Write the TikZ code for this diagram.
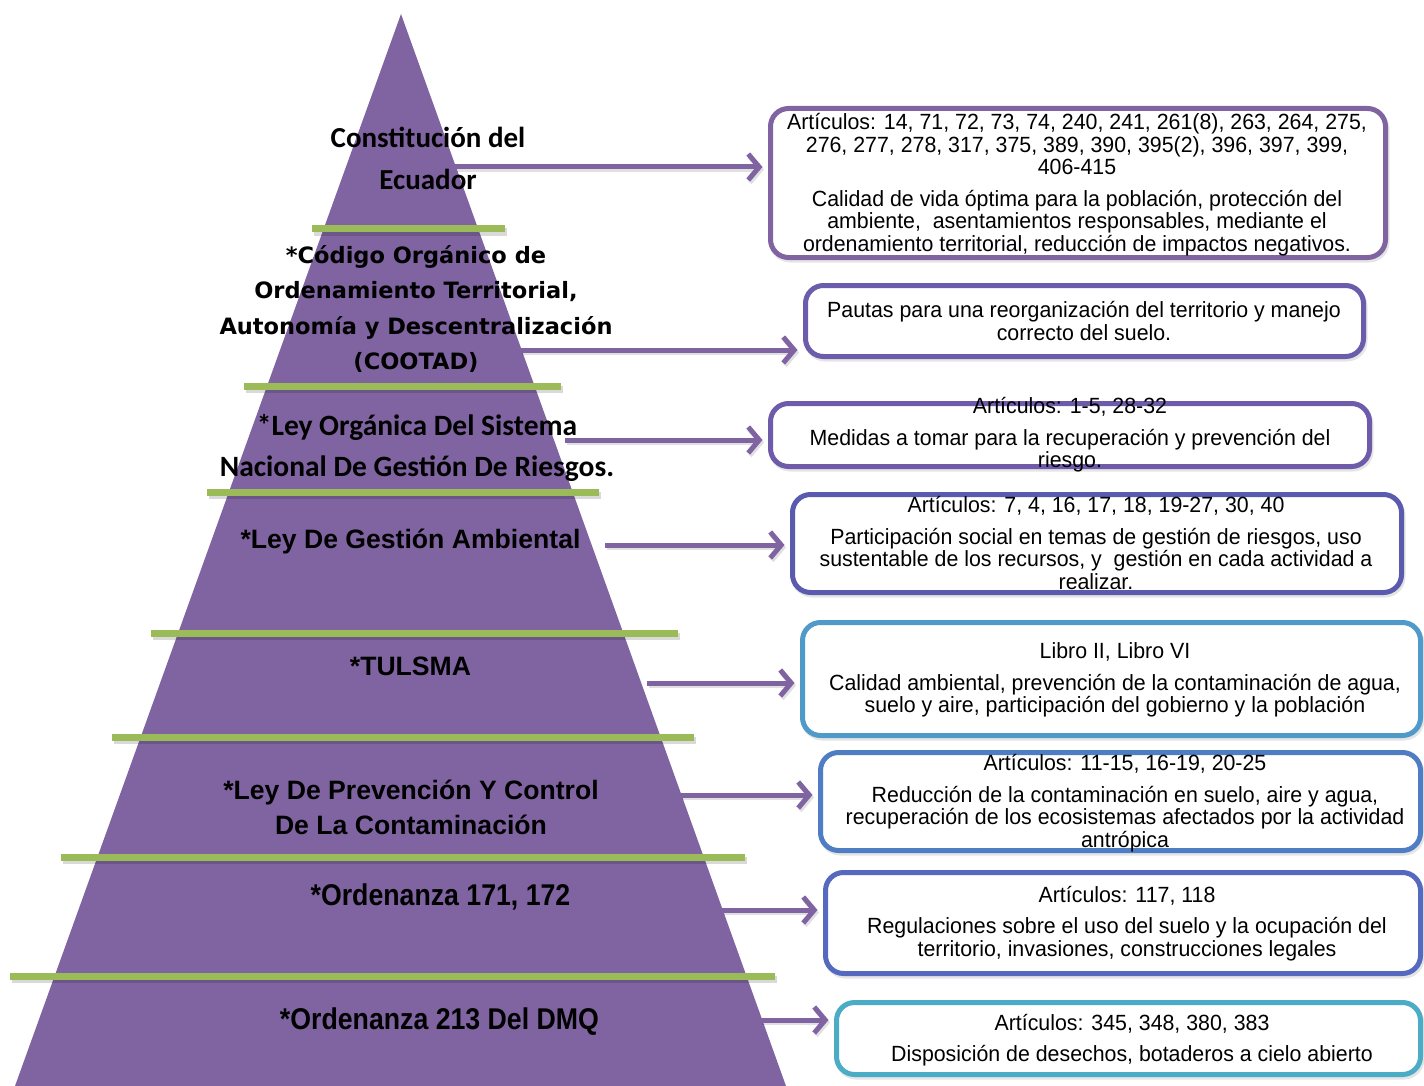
\documentclass[tikz,border=0pt]{standalone}
\usepackage{fontspec}
\setmainfont{Liberation Sans}
\newfontfamily\boxfont[FakeStretch=0.97]{Liberation Sans}
\newfontfamily\calfont{Carlito}
\newfontfamily\verfont{DejaVu Sans}
\newfontfamily\arfont{Liberation Sans}
\newfontfamily\arnarrow[FakeStretch=0.89]{Liberation Sans}
\usetikzlibrary{arrows.meta}
\definecolor{pyrPurple}{HTML}{8064A2}
\definecolor{barGreen}{HTML}{9BBB59}
\definecolor{cA}{HTML}{8064A2}
\definecolor{cB}{HTML}{6B5CAC}
\definecolor{cC}{HTML}{6E5CAA}
\definecolor{cD}{HTML}{5A5AAF}
\definecolor{cE}{HTML}{4F9AC8}
\definecolor{cF}{HTML}{4F7DC3}
\definecolor{cG}{HTML}{5569BE}
\definecolor{cH}{HTML}{4BACC6}
\tikzset{
  bar/.style={line width=7pt, draw=barGreen},
  barshadow/.style={line width=7pt, draw=black, opacity=0.15},
  arr/.style={line width=5pt, draw=pyrPurple, shorten >=8pt,
    -{Straight Barb[length=11pt,width=26pt]}},
  arrshadow/.style={line width=5pt, draw=black, opacity=0.12, shorten >=8pt,
    -{Straight Barb[length=11pt,width=26pt]}},
  box/.style={draw=#1, line width=5pt, rounded corners=18pt, fill=white,
    inner sep=0pt, outer sep=0pt},
  boxshadow/.style={draw=black, opacity=0.10, line width=5pt, rounded corners=18pt,
    inner sep=0pt, outer sep=0pt},
  btext/.style={align=center, inner sep=0pt,
    font=\boxfont\fontsize{22}{22.5}\selectfont},
  labA/.style={align=center, inner sep=0pt,
    font=\calfont\bfseries\fontsize{29}{42}\selectfont},
  labB/.style={align=center, inner sep=0pt,
    font=\verfont\bfseries\fontsize{22.5}{35.4}\selectfont},
  labC/.style={align=center, inner sep=0pt,
    font=\calfont\bfseries\fontsize{29.5}{41}\selectfont},
  labD/.style={align=center, inner sep=0pt,
    font=\arfont\bfseries\fontsize{26.6}{35}\selectfont},
  labE/.style={align=center, inner sep=0pt,
    font=\arnarrow\bfseries\fontsize{30}{35}\selectfont},
}
\begin{document}
\begin{tikzpicture}[x=1pt,y=-1pt]
\useasboundingbox (0,0) rectangle (1424,1086);
% pyramid
\fill[pyrPurple] (401,14) -- (786,1086) -- (15,1086) -- cycle;
% green bars with soft shadows
\foreach \y/\a/\b in {229/312/505, 386/244/561, 492/207/599, 633/151/678,
                      737/112/694, 857/61/745, 976/10/775} {
  \draw[barshadow] (\a+2,\y+3) -- (\b+2,\y+3);
  \draw[bar] (\a,\y) -- (\b,\y);
}
% labels
\node[labA] (l1) at (428,158) {Constitución del\\Ecuador};
\node[labB] (l2) at (416,309) {*Código Orgánico de\\Ordenamiento Territorial,\\Autonomía y Descentralización\\(COOTAD)};
\node[labC] (l3) at (417,447.5) {*Ley Orgánica Del Sistema\\Nacional De Gestión De Riesgos.};
\node[labD] (l4) at (410.5,542) {*Ley De Gestión Ambiental};
\node[labD] (l5) at (410.5,666) {*TULSMA};
\node[labD] (l6) at (411,807.5) {*Ley De Prevención Y Control\\De La Contaminación};
\node[labE] (l7) at (440.5,897) {*Ordenanza 171, 172};
\node[labE] (l8) at (439.5,1022) {*Ordenanza 213 Del DMQ};
% box shadows
\foreach \cx/\cy/\w/\h in {1078/183/615/149, 1084.5/321/558/71, 1070/435/599/63,
    1097/543.5/609/98, 1111.5/679/618/113, 1120.5/801.5/600/98,
    1123/923/595/101, 1128.5/1038.5/584/72} {
  \node[boxshadow, minimum width=\w pt, minimum height=\h pt] at (\cx+1.5,\cy+2.5) {};
}
% boxes
\node[box=cA, minimum width=615pt, minimum height=149pt] (b1) at (1078,183) {};
\node[box=cB, minimum width=558pt, minimum height=71pt] (b2) at (1084.5,321) {};
\node[box=cC, minimum width=599pt, minimum height=63pt] (b3) at (1070,435) {};
\node[box=cD, minimum width=609pt, minimum height=98pt] (b4) at (1097,543.5) {};
\node[box=cE, minimum width=618pt, minimum height=113pt] (b5) at (1111.5,679) {};
\node[box=cF, minimum width=600pt, minimum height=98pt] (b6) at (1120.5,801.5) {};
\node[box=cG, minimum width=595pt, minimum height=101pt] (b7) at (1123,923) {};
\node[box=cH, minimum width=584pt, minimum height=72pt] (b8) at (1128.5,1038.5) {};
% box texts
\node[btext] (t1) at (1077,184.5) {Artículos: 14, 71, 72, 73, 74, 240, 241, 261(8), 263, 264, 275,\\276, 277, 278, 317, 375, 389, 390, 395(2), 396, 397, 399,\\406-415\\[9pt]Calidad de vida óptima para la población, protección del\\ambiente,\ \ asentamientos responsables, mediante el\\ordenamiento territorial, reducción de impactos negativos.};
\node[btext] (t2) at (1084,321) {Pautas para una reorganización del territorio y manejo\\correcto del suelo.};
\node[btext] (t3) at (1070,435) {Artículos: 1-5, 28-32\\[9pt]Medidas a tomar para la recuperación y prevención del\\riesgo.};
\node[btext] (t4) at (1096,543) {Artículos: 7, 4, 16, 17, 18, 19-27, 30, 40\\[9pt]Participación social en temas de gestión de riesgos, uso\\sustentable de los recursos, y\ \ gestión en cada actividad a\\realizar.};
\node[btext] (t5) at (1115,680) {Libro II, Libro VI\\[9pt]Calidad ambiental, prevención de la contaminación de agua,\\suelo y aire, participación del gobierno y la población};
\node[btext] (t6) at (1125,803) {Artículos: 11-15, 16-19, 20-25\\[9pt]Reducción de la contaminación en suelo, aire y agua,\\recuperación de los ecosistemas afectados por la actividad\\antrópica};
\node[btext] (t7) at (1127,923.5) {Artículos: 117, 118\\[9pt]Regulaciones sobre el uso del suelo y la ocupación del\\territorio, invasiones, construcciones legales};
\node[btext] (t8) at (1132,1040) {Artículos: 345, 348, 380, 383\\[9pt]Disposición de desechos, botaderos a cielo abierto};
% arrow start points
\coordinate (s1) at (455,167);
\coordinate (s2) at (520,350);
\coordinate (s3) at (565,440);
\coordinate (s4) at (605,545);
\coordinate (s5) at (647,683);
\coordinate (s6) at (680,795);
\coordinate (s7) at (722,910);
\coordinate (s8) at (760,1020);
\foreach \i in {1,...,8} {
  \draw[arrshadow] ([shift={(1.5,2.5)}]s\i) -- ([shift={(1.5,2.5)}]s\i -| b\i.west);
  \draw[arr] (s\i) -- (s\i -| b\i.west);
}
\end{tikzpicture}
\end{document}
